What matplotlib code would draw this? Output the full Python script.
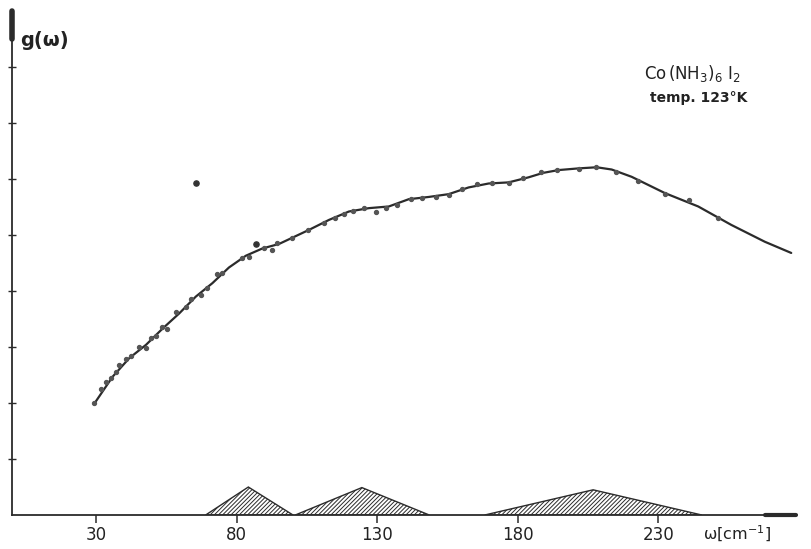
import numpy as np
import matplotlib.pyplot as plt
from matplotlib.patches import Polygon

# smooth curve drawn through the points (omega in cm^-1, g in tick units)
curve_w = [29.3, 35.8, 41.7, 47.7, 53.6, 59.5, 65.4, 71.3, 77.2, 83.2, 89.1, 95.0,
           105.6, 112.8, 119.9, 127.0, 134.1, 141.2, 148.3, 155.4, 162.5, 169.6,
           176.7, 183.8, 189.0, 194.5, 201.6, 208.1, 213.4, 220.5, 232.3, 244.2,
           256.0, 267.9, 277.3]
curve_g = [1.99, 2.47, 2.80, 3.04, 3.33, 3.60, 3.90, 4.14, 4.42, 4.63, 4.76, 4.84,
           5.09, 5.27, 5.42, 5.48, 5.51, 5.64, 5.68, 5.73, 5.85, 5.92,
           5.94, 6.03, 6.11, 6.16, 6.19, 6.21, 6.17, 6.04, 5.75, 5.51,
           5.18, 4.88, 4.68]

# measured points
pts_w = [29.3, 31.7, 33.4, 35.2, 37.0, 38.2, 40.6, 42.3, 45.3, 47.7, 49.4, 51.2,
         53.4, 55.2, 58.3, 61.9, 63.6, 67.2, 69.4, 73.0, 74.8, 81.9, 84.4, 89.7,
         92.5, 94.3, 99.6, 105.3, 111.0, 114.9, 118.1, 121.3, 125.2, 129.5, 133.0,
         136.9, 141.9, 145.8, 150.8, 155.4, 160.0, 165.3, 170.7, 176.7, 182.0,
         188.4, 193.8, 201.6, 208.0, 215.1, 222.9, 232.5, 241.0, 251.3]
pts_g = [2.00, 2.25, 2.38, 2.45, 2.56, 2.68, 2.79, 2.84, 3.00, 2.98, 3.17, 3.20,
         3.35, 3.33, 3.62, 3.71, 3.86, 3.93, 4.05, 4.30, 4.33, 4.59, 4.61, 4.77,
         4.73, 4.86, 4.95, 5.09, 5.21, 5.30, 5.38, 5.43, 5.48, 5.41, 5.48,
         5.54, 5.64, 5.66, 5.68, 5.71, 5.82, 5.91, 5.93, 5.93, 6.02,
         6.13, 6.16, 6.18, 6.21, 6.13, 5.96, 5.73, 5.63, 5.30]
stray_w = [86.8, 65.5]
stray_g = [4.84, 5.93]

# triangular peaks on the baseline: (left, peak, right, height)
tri_left = [68.9, 100.8, 168.2]
tri_peak = [84.1, 124.5, 206.8]
tri_right = [100.0, 148.5, 245.5]
tri_height = [0.50, 0.49, 0.45]

xticks = [30, 80, 130, 180, 230]

ink = '#2b2b2b'
plt.rcParams['hatch.linewidth'] = 0.7
plt.rcParams['hatch.color'] = '#3a3a3a'

fig = plt.figure(figsize=(8.12, 5.49), dpi=100)
ax = fig.add_axes([0.0148, 0.0619, 0.9655, 0.918])
ax.set_xlim(0, 279)
ax.set_ylim(0, 9)

ax.plot(curve_w, curve_g, color=ink, lw=1.6, solid_capstyle='round')
ax.scatter(pts_w, pts_g, s=8, color='#555555', zorder=3)
ax.scatter(stray_w, stray_g, s=14, color='#333333', zorder=3)

for l, p, r, h in zip(tri_left, tri_peak, tri_right, tri_height):
    tri = Polygon([(l, 0), (p, h), (r, 0)], closed=True, facecolor='white',
                  edgecolor=ink, lw=1.0, hatch='////////')
    ax.add_patch(tri)

for s in ['top', 'right']:
    ax.spines[s].set_visible(False)
ax.spines['left'].set_color(ink)
ax.spines['bottom'].set_color(ink)
ax.spines['left'].set_linewidth(1.3)
ax.spines['bottom'].set_linewidth(1.3)

# thick arrow-like ends of the axes
ax.plot([0, 0], [8.5, 9.0], color=ink, lw=4, clip_on=False, solid_capstyle='round')
ax.plot([268, 279], [0, 0], color=ink, lw=3, clip_on=False, solid_capstyle='round')

ax.set_xticks(xticks)
ax.set_xticklabels([str(t) for t in xticks], fontsize=12, color='#222222')
ax.tick_params(axis='x', direction='out', length=6, width=1.1, color=ink, pad=2)
ax.set_yticks(range(1, 9))
ax.set_yticklabels([])
ax.tick_params(axis='y', direction='inout', length=6, width=1.0, color=ink)

ax.text(3, 8.48, 'g(ω)', fontsize=14, color='#222222', fontweight='bold', va='center')
ax.text(225, 7.89, r'Co$\,$(NH$_3$)$_6$ I$_2$', fontsize=12, color='#222222', va='center')
ax.text(227, 7.45, 'temp. 123°K', fontsize=10, color='#222222', va='center',
        fontweight='semibold')
ax.text(246, -0.33, 'ω[cm$^{-1}$]', fontsize=11.5, color='#222222', va='center',
        clip_on=False)

fig.savefig('out.png', dpi=100)
